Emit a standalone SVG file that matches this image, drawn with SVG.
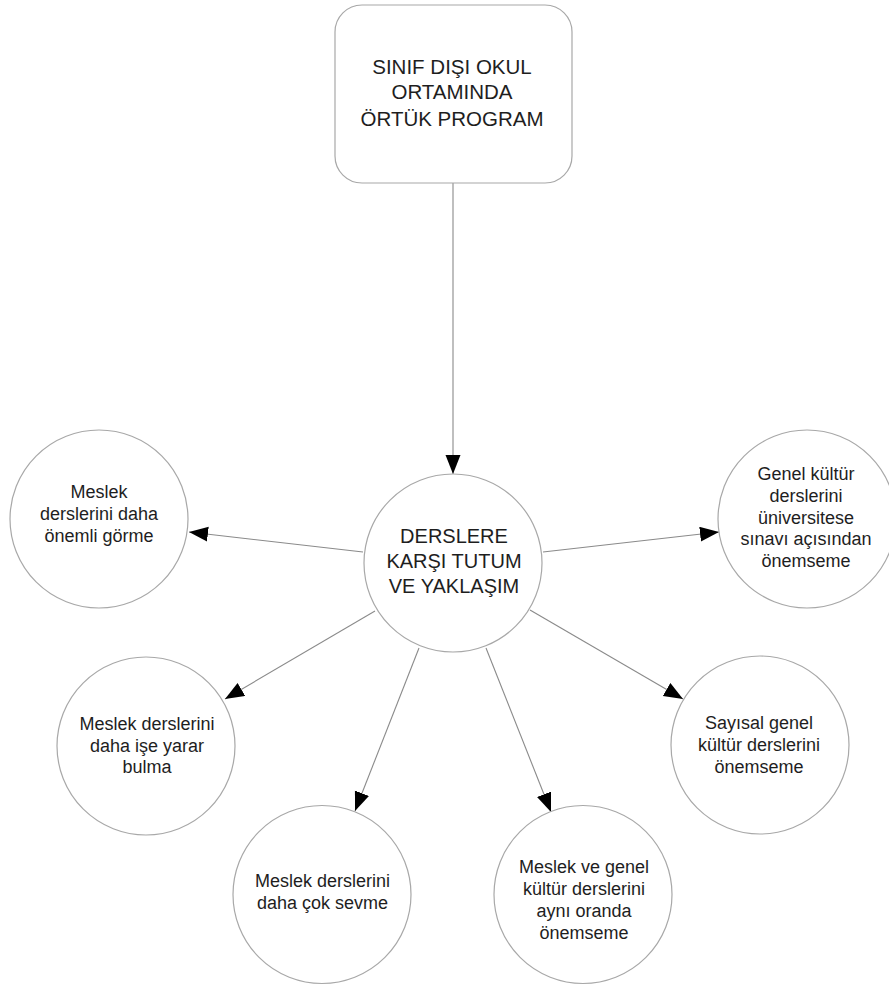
<svg xmlns="http://www.w3.org/2000/svg" width="889" height="985" viewBox="0 0 889 985">
<style>
.node{fill:#fff;stroke:#a8a8a8;stroke-width:1.2}
.t{font-family:"Liberation Sans",Arial,sans-serif;fill:#1e1e1e;text-anchor:middle}
.big{font-size:20.5px}
.mid{font-size:20px}
.sm{font-size:18px}
.edge{stroke:#8a8a8a;stroke-width:1.1;fill:none;marker-end:url(#arr)}
</style>
<defs>
<marker id="arr" markerUnits="userSpaceOnUse" markerWidth="20" markerHeight="16" refX="19" refY="7.5" orient="auto">
<path d="M0,0 L19,7.5 L0,15 z" fill="#000"/>
</marker>
</defs>
<rect width="889" height="985" fill="#fff"/>
<g id="connectors">
<line class="edge" x1="453" y1="183" x2="453" y2="474"/>
<line class="edge" x1="363" y1="552" x2="189" y2="532"/>
<line class="edge" x1="543" y1="552" x2="719" y2="532"/>
<line class="edge" x1="375" y1="611" x2="225" y2="699"/>
<line class="edge" x1="419" y1="648" x2="355" y2="811"/>
<line class="edge" x1="486" y1="648" x2="551" y2="812"/>
<line class="edge" x1="530" y1="610" x2="683" y2="699"/>
</g>
<g id="top">
<rect class="node" x="335" y="5" width="237" height="178" rx="27"/>
<text class="t big" x="452" y="74">SINIF DIŞI OKUL</text>
<text class="t big" x="452" y="99">ORTAMINDA</text>
<text class="t big" x="452" y="126">ÖRTÜK PROGRAM</text>
</g>
<g id="center">
<circle class="node" cx="453" cy="563" r="89"/>
<text class="t mid" x="454" y="543">DERSLERE</text>
<text class="t mid" x="454" y="568">KARŞI TUTUM</text>
<text class="t mid" x="454" y="593">VE YAKLAŞIM</text>
</g>
<g id="n-left">
<circle class="node" cx="99" cy="519" r="89"/>
<text class="t sm" x="99" y="498">Meslek</text>
<text class="t sm" x="99" y="520">derslerini daha</text>
<text class="t sm" x="99" y="542">önemli görme</text>
</g>
<g id="n-right">
<circle class="node" cx="807" cy="519" r="89"/>
<text class="t sm" x="806" y="480">Genel kültür</text>
<text class="t sm" x="806" y="502">derslerini</text>
<text class="t sm" x="806" y="523.5">üniversitese</text>
<text class="t sm" x="806" y="545">sınavı açısından</text>
<text class="t sm" x="806" y="567">önemseme</text>
</g>
<g id="n-lowerleft">
<circle class="node" cx="146" cy="746" r="89"/>
<text class="t sm" x="147" y="730">Meslek derslerini</text>
<text class="t sm" x="147" y="752">daha işe yarar</text>
<text class="t sm" x="147" y="773">bulma</text>
</g>
<g id="n-lowerright">
<circle class="node" cx="760" cy="745" r="89"/>
<text class="t sm" x="759" y="729">Sayısal genel</text>
<text class="t sm" x="759" y="751">kültür derslerini</text>
<text class="t sm" x="759" y="773">önemseme</text>
</g>
<g id="n-bottomleft">
<circle class="node" cx="322" cy="894.5" r="89"/>
<text class="t sm" x="322.5" y="887">Meslek derslerini</text>
<text class="t sm" x="322.5" y="909">daha çok sevme</text>
</g>
<g id="n-bottomright">
<circle class="node" cx="583" cy="894.5" r="89"/>
<text class="t sm" x="584" y="873">Meslek ve genel</text>
<text class="t sm" x="584" y="895">kültür derslerini</text>
<text class="t sm" x="584" y="917">aynı oranda</text>
<text class="t sm" x="584" y="939">önemseme</text>
</g>
</svg>
